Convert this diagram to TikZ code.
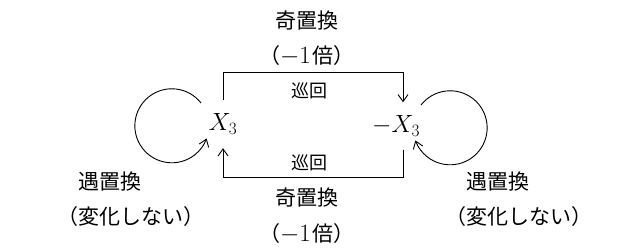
\documentclass[tikz,border=0pt]{standalone}
\usepackage{fontspec}
\newfontfamily\cjk{Noto Sans CJK JP}
\usetikzlibrary{arrows.meta}
\newcommand{\negone}{{\fontsize{27}{30}\selectfont$-1$}\hspace{2pt}}
\begin{document}
\begin{tikzpicture}[x=1pt,y=1pt,
  big/.style={font=\cjk\fontsize{21}{24}\selectfont, inner sep=0},
  small/.style={font=\cjk\fontsize{18}{20}\selectfont, inner sep=0},
  var/.style={font=\fontsize{25}{28}\selectfont, inner sep=0},
  conn/.style={line width=0.9pt, -{Straight Barb[length=7pt,width=10pt]}}]
\useasboundingbox (0,0) rectangle (630,250);
% main nodes
\node[var, minimum height=48pt] (X) at (223,126) {$X_3$};
\node[var, minimum height=47pt] (mX) at (396,124) {$-X_3$};
% top and bottom brackets
\draw[conn] (X.north) -- ++(0,27) -| ([xshift=7pt]mX.north);
\draw[conn] ([xshift=7pt]mX.south) -- ++(0,-28) -| (X.south);
% labels of brackets
\node[big] (t1) at (307,229) {奇置換};
\node[big] (t2) at (307,194) {（\negone 倍）};
\node[small] (t3) at (309,159) {巡回};
\node[small] (b3) at (309,87) {巡回};
\node[big] (b1) at (307,52) {奇置換};
\node[big] (b2) at (307,16) {（\negone 倍）};
% loops
\coordinate (ls) at (201,147);
\draw[conn] (ls) arc[start angle=38, end angle=340, radius=37];
\coordinate (rs) at (421,145);
\draw[conn] (rs) arc[start angle=142, end angle=-160, radius=37];
% loop labels
\node[big] (l1) at (110,68) {遇置換};
\node[big] (l2) at (131,33) {（変化しない）};
\node[big] (r1) at (498,68) {遇置換};
\node[big] (r2) at (519,33) {（変化しない）};
\end{tikzpicture}
\end{document}
